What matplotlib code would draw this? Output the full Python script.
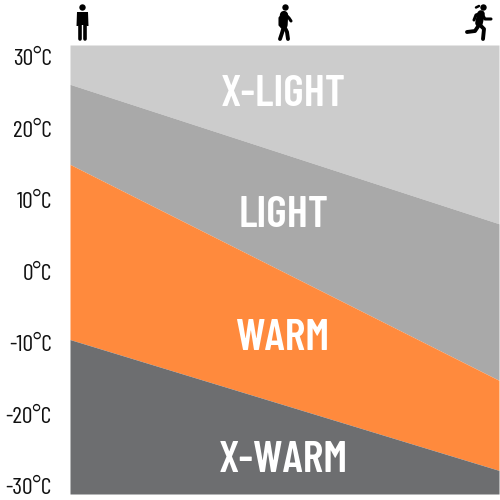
import matplotlib
matplotlib.use("Agg")
import matplotlib.pyplot as plt
from matplotlib import font_manager

# activity level runs left (standing) to right (running)
activity = [0, 1]
xlight_floor = [26.2, 6.7]
light_floor = [15.0, -15.2]
warm_floor = [-9.5, -27.8]
ymin, ymax = -31.1, 31.7

temp_ticks = [30, 20, 10, 0, -10, -20, -30]
temp_labels = ["30°C", "20°C", "10°C", "0°C", "-10°C", "-20°C", "-30°C"]

band_names = ["X-LIGHT", "LIGHT", "WARM", "X-WARM"]
band_x = [0.497, 0.497, 0.497, 0.497]
band_y = [24.8, 7.8, -9.4, -26.4]
band_colors = ["#cccccc", "#a9a9a9", "#ff8a3d", "#6d6e70"]

names = {f.name for f in font_manager.fontManager.ttflist}
narrow = "Liberation Sans"
for n in ["Barlow Condensed", "Roboto Condensed", "Liberation Sans Narrow"]:
    if n in names:
        narrow = n
        break

fig = plt.figure(figsize=(5, 5), dpi=100)
ax = fig.add_axes([70 / 500, 6 / 500, 429 / 500, 449 / 500])

ax.fill_between(activity, xlight_floor, ymax, color=band_colors[0], lw=0)
ax.fill_between(activity, light_floor, xlight_floor, color=band_colors[1], lw=0)
ax.fill_between(activity, warm_floor, light_floor, color=band_colors[2], lw=0)
ax.fill_between(activity, ymin, warm_floor, color=band_colors[3], lw=0)

for name, x, y in zip(band_names, band_x, band_y):
    ax.text(x, y, name, color="white", fontsize=32, fontweight=600,
            family=narrow, ha="center", va="center")

ax.set_xlim(0, 1)
ax.set_ylim(ymin, ymax)
ax.set_xticks([])
ax.set_yticks(temp_ticks)
ax.set_yticklabels(temp_labels, family=narrow, fontsize=17, color="#111111")
ax.tick_params(axis="y", length=0, pad=13)
for s in ax.spines.values():
    s.set_visible(False)

# little people above the chart, drawn in pixel coordinates
icons = fig.add_axes([0, 0, 1, 1], facecolor="none")
icons.set_xlim(0, 500)
icons.set_ylim(500, 0)
icons.axis("off")


def limb(xs, ys, w=3.2):
    icons.plot(xs, ys, color="black", lw=w, solid_capstyle="round",
               solid_joinstyle="round")


def head(x, y, r=3.2):
    icons.add_patch(plt.Circle((x, y), r, color="black", lw=0))


# standing
head(82.5, 7.5)
icons.fill([77, 88, 88.5, 86.5, 86, 79, 78.5, 76.5],
           [12, 12, 26, 26, 25, 25, 26, 26], color="black", lw=0)
limb([80.2, 80.2], [24, 39], 2.6)
limb([84.6, 84.6], [24, 39], 2.6)

# walking
head(285.5, 7.5)
limb([284, 283.5], [15, 25], 6)
limb([284, 280, 280], [14, 18, 25], 2.2)
limb([285, 289, 291], [14, 18, 21], 2.2)
limb([284, 282, 280], [26, 33, 39], 2.8)
limb([284, 287, 288], [26, 32, 39], 2.8)

# running
head(483.5, 7.5)
limb([479, 476], [6, 7.5], 1.8)
limb([481, 479], [14, 23], 5.5)
limb([481, 476, 474], [13, 15, 20], 2.2)
limb([482, 485, 491], [14, 19, 19], 2.2)
limb([479, 484, 483], [24, 29, 39], 2.8)
limb([479, 475, 467], [25, 31, 32], 2.8)

fig.savefig("out.png", dpi=100)
